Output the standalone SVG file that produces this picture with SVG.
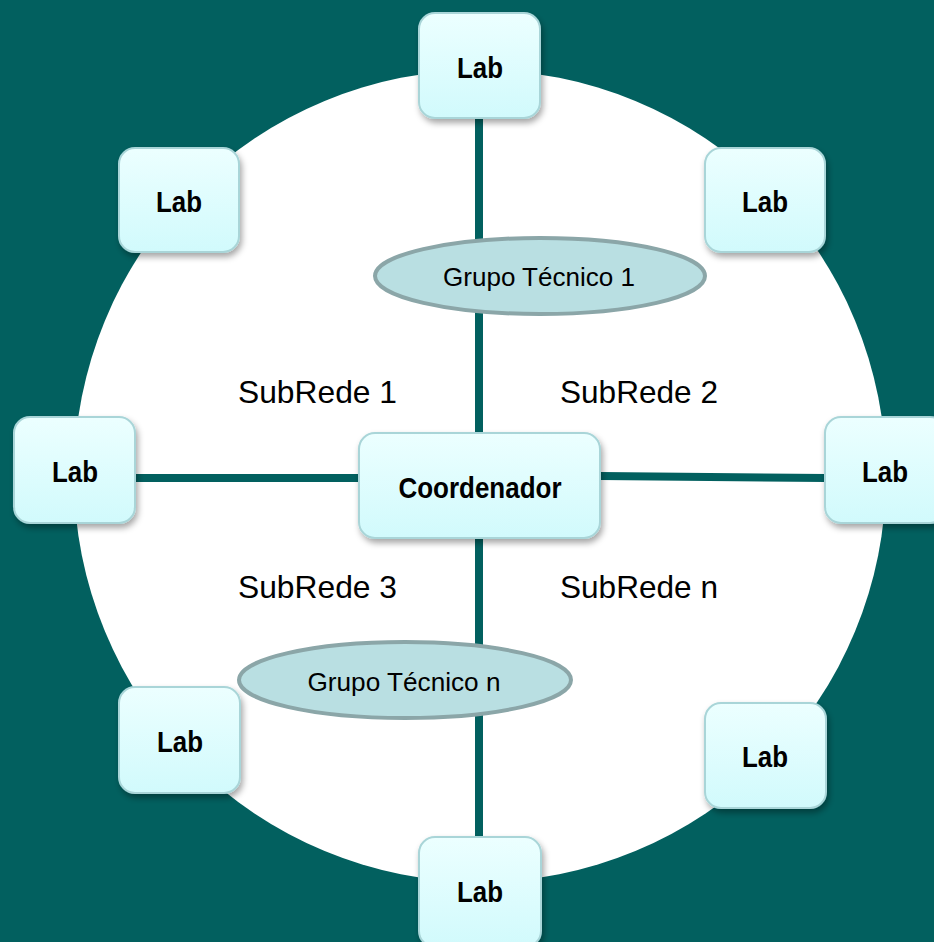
<svg xmlns="http://www.w3.org/2000/svg" width="934" height="942" viewBox="0 0 934 942">
<defs>
<linearGradient id="boxGrad" x1="0" y1="0" x2="0" y2="1">
<stop offset="0" stop-color="#ECFFFF"/>
<stop offset="1" stop-color="#D1FAFC"/>
</linearGradient>
<filter id="shadow" x="-20%" y="-20%" width="150%" height="150%">
<feDropShadow dx="2" dy="4" stdDeviation="3" flood-color="#000" flood-opacity="0.35"/>
</filter>
</defs>
<style>
.box{fill:url(#boxGrad);stroke:#A9D5D8;stroke-width:2;filter:url(#shadow)}
.lab{font-family:"Liberation Sans",Arial,sans-serif;font-weight:bold;font-size:30px;fill:#000;text-anchor:middle}
.ell{fill:#B9DFE2;stroke:#8BA6A8;stroke-width:4}
.gt{font-family:"Liberation Sans",Arial,sans-serif;font-size:26px;fill:#000;text-anchor:middle}
.sub{font-family:"Liberation Sans",Arial,sans-serif;font-size:32px;fill:#000}
.conn{stroke:#02605F;stroke-width:8;fill:none}
</style>
<rect x="0" y="0" width="934" height="942" fill="#02605F"/>
<circle cx="480" cy="476" r="406" fill="#FFFFFF"/>
<g id="connectors">
<line class="conn" x1="479" y1="118" x2="479" y2="433"/>
<line class="conn" x1="479" y1="538" x2="479" y2="838"/>
<line class="conn" x1="135" y1="478" x2="359" y2="478"/>
<line class="conn" x1="600" y1="476" x2="826" y2="478"/>
</g>
<g id="labels">
<text class="sub" x="238" y="403" textLength="159" lengthAdjust="spacingAndGlyphs">SubRede 1</text>
<text class="sub" x="560" y="403" textLength="158" lengthAdjust="spacingAndGlyphs">SubRede 2</text>
<text class="sub" x="238" y="598" textLength="159" lengthAdjust="spacingAndGlyphs">SubRede 3</text>
<text class="sub" x="560" y="598" textLength="158" lengthAdjust="spacingAndGlyphs">SubRede n</text>
</g>
<g id="gt1">
<ellipse class="ell" cx="540" cy="276" rx="165" ry="38"/>
<text class="gt" x="539" y="286" textLength="192" lengthAdjust="spacingAndGlyphs">Grupo Técnico 1</text>
</g>
<g id="gtn">
<ellipse class="ell" cx="405" cy="680" rx="166" ry="38"/>
<text class="gt" x="404" y="691" textLength="193" lengthAdjust="spacingAndGlyphs">Grupo Técnico n</text>
</g>
<g id="coordenador">
<rect class="box" x="359" y="433" width="241" height="105" rx="16"/>
<text class="lab" x="480" y="498" textLength="163" lengthAdjust="spacingAndGlyphs">Coordenador</text>
</g>
<g id="lab-top">
<rect class="box" x="419" y="13" width="121" height="105" rx="16"/>
<text class="lab" x="480" y="78" textLength="46" lengthAdjust="spacingAndGlyphs">Lab</text>
</g>
<g id="lab-upper-left">
<rect class="box" x="119" y="148" width="120" height="104" rx="16"/>
<text class="lab" x="179" y="212" textLength="46" lengthAdjust="spacingAndGlyphs">Lab</text>
</g>
<g id="lab-upper-right">
<rect class="box" x="705" y="148" width="120" height="104" rx="16"/>
<text class="lab" x="765" y="212" textLength="46" lengthAdjust="spacingAndGlyphs">Lab</text>
</g>
<g id="lab-left">
<rect class="box" x="14" y="417" width="121" height="106" rx="16"/>
<text class="lab" x="75" y="482" textLength="46" lengthAdjust="spacingAndGlyphs">Lab</text>
</g>
<g id="lab-right">
<rect class="box" x="825" y="417" width="121" height="106" rx="16"/>
<text class="lab" x="885" y="482" textLength="46" lengthAdjust="spacingAndGlyphs">Lab</text>
</g>
<g id="lab-lower-left">
<rect class="box" x="119" y="687" width="121" height="106" rx="16"/>
<text class="lab" x="180" y="752" textLength="46" lengthAdjust="spacingAndGlyphs">Lab</text>
</g>
<g id="lab-lower-right">
<rect class="box" x="705" y="703" width="121" height="105" rx="16"/>
<text class="lab" x="765" y="767" textLength="46" lengthAdjust="spacingAndGlyphs">Lab</text>
</g>
<g id="lab-bottom">
<rect class="box" x="419" y="837" width="122" height="110" rx="16"/>
<text class="lab" x="480" y="902" textLength="46" lengthAdjust="spacingAndGlyphs">Lab</text>
</g>
</svg>
